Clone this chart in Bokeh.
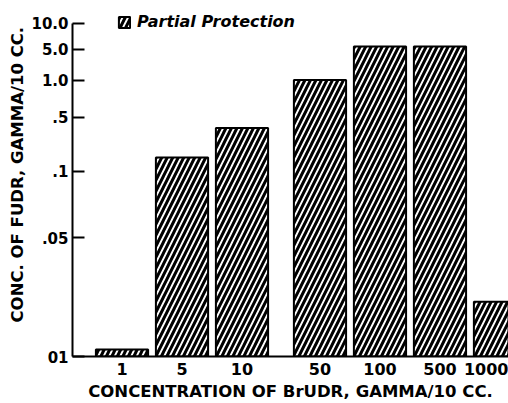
import numpy as np
from bokeh.plotting import figure
from bokeh.models import (Range1d, FixedTicker, Legend, LegendItem, Title,
                          ColumnDataSource)
from bokeh.embed import file_html
from bokeh.resources import INLINE

# ---- data ----
brudr_conc = ["1", "5", "10", "50", "100", "500", "1000"]
bar_group = [0, 0, 0, 1, 1, 1, 1]            # gap between "10" and "50"
fudr_conc = [0.011, 0.15, 0.36, 1.02, 5.4, 5.4, 0.021]

y_tick_values = [0.01, 0.05, 0.1, 0.5, 1.0, 5.0, 10.0]
y_tick_labels = ["01", ".05", ".1", ".5", "1.0", "5.0", "10.0"]

# ---- axis calibration of the (hand-drawn, non-uniform) value scale ----
# fraction of the axis height at which each tick value sits
axis_cal = [0.0, 0.356, 0.557, 0.719, 0.829, 0.922, 1.0]

def to_axis(v):
    return np.interp(np.log10(v), np.log10(y_tick_values), axis_cal)

xpos = np.arange(len(brudr_conc)) + 0.3 * np.array(bar_group)
src = ColumnDataSource(dict(x=xpos, top=to_axis(np.array(fudr_conc)),
                            label=brudr_conc))

FONT = "DejaVu Sans"

p = figure(width=508, height=403, output_backend="svg", toolbar_location=None,
           x_range=Range1d(-0.825, 6.442), y_range=Range1d(0, 1.054),
           min_border_left=72, min_border_right=0, min_border_top=5,
           min_border_bottom=46)
p.outline_line_color = None
p.xgrid.visible = False
p.ygrid.visible = False
p.background_fill_color = "white"
p.border_fill_color = "white"

bars = p.vbar(x="x", top="top", bottom=0, width=0.87, source=src,
              fill_color="white", line_color="black", line_width=2,
              hatch_pattern="/", hatch_color="black", hatch_scale=11,
              hatch_weight=3)

# x axis
p.xaxis.ticker = FixedTicker(ticks=list(xpos))
p.xaxis.major_label_overrides = {float(x): l for x, l in zip(xpos, brudr_conc)}
p.xaxis.major_tick_in = 0
p.xaxis.major_tick_out = 0
p.xaxis.minor_tick_in = 0
p.xaxis.minor_tick_out = 0
p.xaxis.axis_line_width = 2
p.xaxis.major_label_text_font = FONT
p.xaxis.major_label_text_font_size = "16px"
p.xaxis.major_label_text_font_style = "bold"
p.xaxis.major_label_text_color = "black"
p.xaxis.major_label_standoff = 6
p.xaxis.axis_label = "CONCENTRATION OF BrUDR, GAMMA/10 CC."
p.xaxis.axis_label_text_font = FONT
p.xaxis.axis_label_text_font_size = "16.5px"
p.xaxis.axis_label_text_font_style = "bold"
p.xaxis.axis_label_text_color = "black"
p.xaxis.axis_label_standoff = 4

# y axis
p.yaxis.ticker = FixedTicker(ticks=axis_cal)
p.yaxis.bounds = (0, 1)
p.yaxis.major_label_overrides = {float(c): l for c, l in zip(axis_cal, y_tick_labels)}
p.yaxis.major_tick_in = 12
p.yaxis.major_tick_out = 0
p.yaxis.major_tick_line_width = 2
p.yaxis.minor_tick_in = 0
p.yaxis.minor_tick_out = 0
p.yaxis.axis_line_width = 2
p.yaxis.major_label_text_font = FONT
p.yaxis.major_label_text_font_size = "15px"
p.yaxis.major_label_text_font_style = "bold"
p.yaxis.major_label_text_color = "black"
p.yaxis.major_label_standoff = 4

ytitle = Title(text="CONC. OF FUDR, GAMMA/10 CC.", align="left", offset=34,
               text_font=FONT, text_font_size="16.5px", text_font_style="bold",
               text_color="black", standoff=4)
p.add_layout(ytitle, "left")

legend = Legend(items=[LegendItem(label="Partial Protection", renderers=[bars])],
                location=(45, 325), orientation="horizontal",
                background_fill_alpha=0, border_line_color=None,
                padding=0, margin=0, spacing=0,
                glyph_width=14, glyph_height=14, label_standoff=6,
                label_text_font=FONT, label_text_font_size="16px",
                label_text_font_style="bold italic", label_text_color="black")
p.add_layout(legend)

open("out.html", "w").write(file_html(p, INLINE))
